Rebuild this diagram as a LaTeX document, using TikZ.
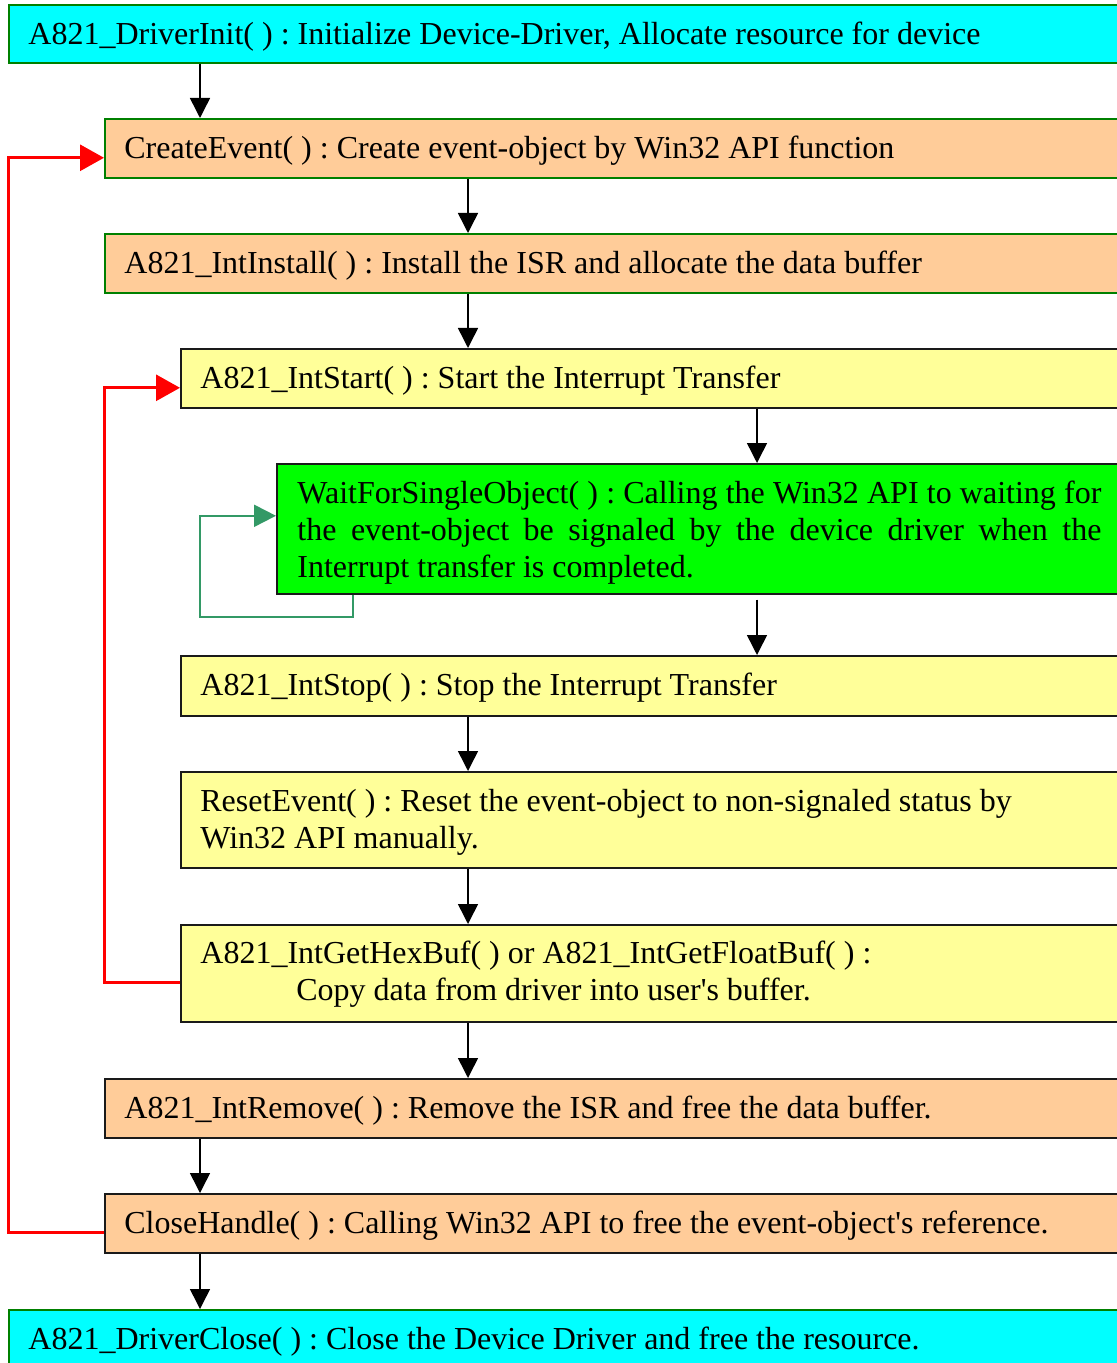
\documentclass[tikz,border=0pt]{standalone}
\usepackage{fontspec}
\setmainfont{Liberation Serif}[Ligatures=TeXOff]
\usetikzlibrary{arrows.meta,calc}
\definecolor{cyanf}{HTML}{00FFFF}
\definecolor{orangef}{HTML}{FFCC99}
\definecolor{yellowf}{HTML}{FFFF99}
\definecolor{greenf}{HTML}{00FF00}
\definecolor{greenline}{HTML}{008000}
\definecolor{darkline}{HTML}{1A1A1A}
\definecolor{loopgreen}{HTML}{339966}
\definecolor{redline}{HTML}{FF0000}
\frenchspacing
\newcommand{\fstrut}{\rule{0pt}{14pt}}
\newcommand{\fullline}[1]{\makebox[402pt][s]{#1}}
\begin{document}
\begin{tikzpicture}[x=0.5pt,y=-0.5pt,
  box/.style={draw, line width=0.8pt, anchor=north west, inner sep=0pt},
  gbox/.style={box, draw=greenline},
  kbox/.style={box, draw=darkline},
  txt/.style={anchor=north west, inner sep=0pt, align=left,
    font=\fontsize{16}{18.5}\selectfont\frenchspacing},
  arr/.style={line width=0.75pt, -{Triangle[length=10pt,width=10pt]}},
  redarr/.style={draw=redline, line width=1.5pt, -{Triangle[length=12pt,width=13pt]}},
  grnarr/.style={draw=loopgreen, line width=1pt, -{Triangle[length=11pt,width=11pt]}}
]
\useasboundingbox (0,0) rectangle (1117,1363);

% boxes
\node[gbox, fill=cyanf, minimum width=557pt, minimum height=29pt] (bInit) at (8,4) {};
\node[gbox, fill=orangef, minimum width=509pt, minimum height=29.5pt] (bCreate) at (104,118) {};
\node[gbox, fill=orangef, minimum width=509pt, minimum height=29.5pt] (bInstall) at (104,233) {};
\node[kbox, fill=yellowf, minimum width=471pt, minimum height=29.5pt] (bStart) at (180,348) {};
\node[kbox, fill=greenf, minimum width=423pt, minimum height=65pt] (bWait) at (276,463) {};
\node[kbox, fill=yellowf, minimum width=471pt, minimum height=30pt] (bStop) at (180,655) {};
\node[kbox, fill=yellowf, minimum width=471pt, minimum height=48pt] (bReset) at (180,771) {};
\node[kbox, fill=yellowf, minimum width=471pt, minimum height=48.5pt] (bGet) at (180,924) {};
\node[kbox, fill=orangef, minimum width=509pt, minimum height=29.5pt] (bRemove) at (104,1078) {};
\node[kbox, fill=orangef, minimum width=509pt, minimum height=29.5pt] (bClose) at (104,1193) {};
\node[gbox, fill=cyanf, minimum width=557pt, minimum height=29.5pt] (bDClose) at (8,1309) {};

% texts (first baseline 20pt below the box top)
\node[txt] (tInit) at ([xshift=10pt,yshift=-6pt]bInit.north west)
  {\fstrut A821\_DriverInit( ) : Initialize Device-Driver, Allocate resource for device};
\node[txt] (tCreate) at ([xshift=10pt,yshift=-6pt]bCreate.north west)
  {\fstrut CreateEvent( ) : Create event-object by Win32 API function};
\node[txt] (tInstall) at ([xshift=10pt,yshift=-6pt]bInstall.north west)
  {\fstrut A821\_IntInstall( ) : Install the ISR and allocate the data buffer};
\node[txt] (tStart) at ([xshift=10pt,yshift=-6pt]bStart.north west)
  {\fstrut A821\_IntStart( ) : Start the Interrupt Transfer};
\node[txt] (tWait) at ([xshift=10.5pt,yshift=-6pt]bWait.north west)
  {\fstrut\fullline{WaitForSingleObject( ) : Calling the Win32 API to waiting for}\\
   \fullline{the event-object be signaled by the device driver when the}\\
   Interrupt transfer is completed.};
\node[txt] (tStop) at ([xshift=10pt,yshift=-6pt]bStop.north west)
  {\fstrut A821\_IntStop( ) : Stop the Interrupt Transfer};
\node[txt] (tReset) at ([xshift=10pt,yshift=-6pt]bReset.north west)
  {\fstrut ResetEvent( ) : Reset the event-object to non-signaled status by\\
   Win32 API manually.};
\node[txt] (tGet) at ([xshift=10pt,yshift=-5.5pt]bGet.north west)
  {\fstrut A821\_IntGetHexBuf( ) or A821\_IntGetFloatBuf( ) :\\
   \hspace*{48pt}Copy data from driver into user's buffer.};
\node[txt] (tRemove) at ([xshift=10pt,yshift=-6pt]bRemove.north west)
  {\fstrut A821\_IntRemove( ) : Remove the ISR and free the data buffer.};
\node[txt] (tClose) at ([xshift=10pt,yshift=-6pt]bClose.north west)
  {\fstrut CloseHandle( ) : Calling Win32 API to free the event-object's reference.};
\node[txt] (tDClose) at ([xshift=10pt,yshift=-6pt]bDClose.north west)
  {\fstrut A821\_DriverClose( ) : Close the Device Driver and free the resource.};

% column coordinates
\coordinate (xa) at (200,0);
\coordinate (xb) at (468,0);
\coordinate (xc) at (757,0);
\coordinate (xr1) at (104,0);
\coordinate (xr2) at (8,0);
\coordinate (xg) at (353,0);
\coordinate (gl) at (200,617);

% black flow arrows
\draw[arr] (xa |- bInit.south) -- (xa |- bCreate.north);
\draw[arr] (xb |- bCreate.south) -- (xb |- bInstall.north);
\draw[arr] (xb |- bInstall.south) -- (xb |- bStart.north);
\draw[arr] (xc |- bStart.south) -- (xc |- bWait.north);
\draw[arr, shorten <=2.5pt] (xc |- bWait.south) -- (xc |- bStop.north);
\draw[arr] (xb |- bStop.south) -- (xb |- bReset.north);
\draw[arr] (xb |- bReset.south) -- (xb |- bGet.north);
\draw[arr] (xb |- bGet.south) -- (xb |- bRemove.north);
\draw[arr] (xa |- bRemove.south) -- (xa |- bClose.north);
\draw[arr] (xa |- bClose.south) -- (xa |- bDClose.north);

% green self loop
\coordinate (wIn) at ([yshift=6.5pt]bWait.west);
\draw[grnarr] (xg |- bWait.south) |- (gl) |- (wIn);

% red loops
\coordinate (rGet) at ([yshift=-4.75pt]bGet.west);
\coordinate (rStart) at ([yshift=-4.75pt]bStart.west);
\draw[redarr] (rGet) -| (xr1 |- rStart) -- (rStart);
\coordinate (rClose) at ([yshift=-4.75pt]bClose.west);
\coordinate (rCreate) at ([yshift=-4.75pt]bCreate.west);
\draw[redarr] (rClose) -| (xr2 |- rCreate) -- (rCreate);
\end{tikzpicture}
\end{document}
